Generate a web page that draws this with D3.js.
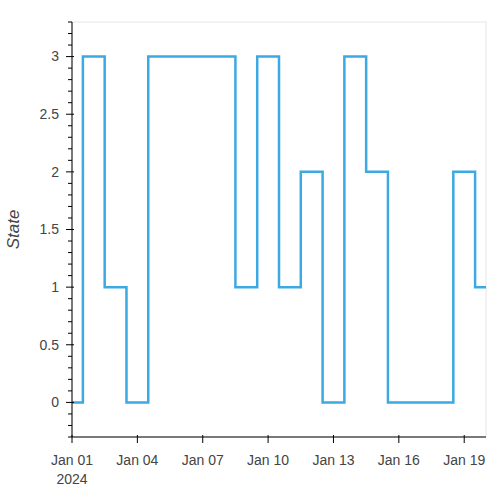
<!DOCTYPE html>
<html>
<head>
<meta charset="utf-8">
<script src="https://cdn.jsdelivr.net/npm/d3@7"></script>
<style>
  html, body { margin: 0; padding: 0; background: #fff; }
  svg text { font-family: Helvetica, Arial, "Liberation Sans", sans-serif; }
</style>
</head>
<body>
<svg id="chart"></svg>
<script>
// daily samples, drawn as a centred step line
const dates = [
  '2024-01-01', '2024-01-02', '2024-01-03', '2024-01-04', '2024-01-05',
  '2024-01-06', '2024-01-07', '2024-01-08', '2024-01-09', '2024-01-10',
  '2024-01-11', '2024-01-12', '2024-01-13', '2024-01-14', '2024-01-15',
  '2024-01-16', '2024-01-17', '2024-01-18', '2024-01-19', '2024-01-20'
];
const states = [0, 3, 1, 0, 3, 3, 3, 3, 1, 3, 1, 2, 0, 3, 2, 0, 0, 0, 2, 1];
const yTicks = [0, 0.5, 1, 1.5, 2, 2.5, 3];
const xTickDates = ['2024-01-01', '2024-01-04', '2024-01-07', '2024-01-10', '2024-01-13', '2024-01-16', '2024-01-19'];
const yLabel = 'State';

const parse = d3.timeParse('%Y-%m-%d');
const data = dates.map((d, i) => ({ date: parse(d), state: states[i] }));

const margin = { top: 22, right: 14, bottom: 63, left: 72 };
const width = 500 - margin.left - margin.right;
const height = 500 - margin.top - margin.bottom;

const svg = d3.select('#chart')
  .attr('width', 500)
  .attr('height', 500);

const g = svg.append('g')
  .attr('transform', `translate(${margin.left}, ${margin.top})`);

const xScale = d3.scaleTime()
  .domain(d3.extent(data, d => d.date))
  .range([0, width]);

const yScale = d3.scaleLinear()
  .domain([-0.3, 3.3])
  .range([height, 0]);

// frame outline
g.append('rect')
  .attr('width', width)
  .attr('height', height)
  .attr('fill', 'none')
  .attr('stroke', '#e5e5e5')
  .attr('stroke-width', 1);

g.append('clipPath')
  .attr('id', 'clip')
  .append('rect')
  .attr('width', width)
  .attr('height', height);

const line = d3.line()
  .x(d => xScale(d.date))
  .y(d => yScale(d.state))
  .curve(d3.curveStep);

g.append('path')
  .datum(data)
  .attr('clip-path', 'url(#clip)')
  .attr('fill', 'none')
  .attr('stroke', '#3ca9e2')
  .attr('stroke-width', 2.5)
  .attr('stroke-linejoin', 'miter')
  .attr('d', line);

// y axis with minor ticks
const yMinor = d3.range(-3, 34).map(v => v / 10).filter(v => !yTicks.some(t => Math.abs(t - v) < 1e-9));

const yAxis = g.append('g');
yAxis.append('line')
  .attr('y1', 0).attr('y2', height)
  .attr('stroke', '#000');
yAxis.selectAll('.minor')
  .data(yMinor)
  .enter()
  .append('line')
  .attr('x1', -4).attr('x2', 0)
  .attr('y1', d => yScale(d)).attr('y2', d => yScale(d))
  .attr('stroke', '#000');
yAxis.selectAll('.major')
  .data(yTicks)
  .enter()
  .append('line')
  .attr('x1', -6).attr('x2', 2)
  .attr('y1', d => yScale(d)).attr('y2', d => yScale(d))
  .attr('stroke', '#000');
yAxis.selectAll('.lbl')
  .data(yTicks)
  .enter()
  .append('text')
  .attr('x', -13)
  .attr('y', d => yScale(d))
  .attr('dy', '0.35em')
  .attr('text-anchor', 'end')
  .attr('fill', '#444')
  .style('font-size', '14px')
  .text(d => d3.format('~g')(d));

yAxis.append('text')
  .attr('transform', 'rotate(-90)')
  .attr('x', -height / 2)
  .attr('y', -53)
  .attr('fill', '#444')
  .style('text-anchor', 'middle')
  .style('font-size', '17px')
  .style('font-style', 'italic')
  .text(yLabel);

// x axis
const xAxis = g.append('g')
  .attr('transform', `translate(0, ${height})`);
xAxis.append('line')
  .attr('x1', 0).attr('x2', width)
  .attr('stroke', '#000');
const xt = xTickDates.map(parse);
xAxis.selectAll('.major')
  .data(xt)
  .enter()
  .append('line')
  .attr('x1', d => xScale(d)).attr('x2', d => xScale(d))
  .attr('y1', -2).attr('y2', 6)
  .attr('stroke', '#000');
xAxis.selectAll('.lbl')
  .data(xt)
  .enter()
  .append('text')
  .attr('x', d => xScale(d))
  .attr('y', 28)
  .attr('text-anchor', 'middle')
  .attr('fill', '#444')
  .style('font-size', '14px')
  .text(d3.timeFormat('%b %d'));
xAxis.append('text')
  .attr('x', xScale(xt[0]))
  .attr('y', 47)
  .attr('text-anchor', 'middle')
  .attr('fill', '#444')
  .style('font-size', '14px')
  .text(d3.timeFormat('%Y')(xt[0]));
</script>
</body>
</html>
